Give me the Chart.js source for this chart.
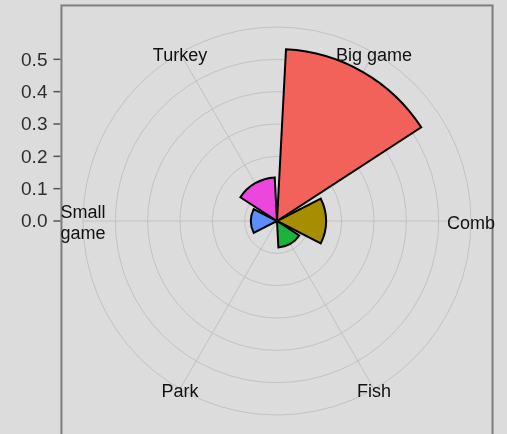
<!DOCTYPE html>
<html>
<head>
<meta charset="utf-8">
<script src="https://cdn.jsdelivr.net/npm/chart.js@4.4.1/dist/chart.umd.min.js"></script>
<style>
  html, body { margin: 0; padding: 0; background: #dcdcdc; }
  canvas { display: block; }
</style>
</head>
<body>
<canvas id="chart" width="507" height="434"></canvas>
<script>
// data
const categories = ['Big game', 'Comb', 'Fish', 'Park', ['Small', 'game'], 'Turkey'];
const shares = [0.532, 0.152, 0.082, 0.005, 0.081, 0.135];
const sliceColors = ['#f3625a', '#a78e00', '#1bb33a', '#00bfc4', '#5c8dfb', '#eb46de'];
const yTickLabels = [0, 0.1, 0.2, 0.3, 0.4, 0.5];
const barWidth = 0.9; // each wedge fills 90% of its sector

const FONT = '"Liberation Sans", Arial, sans-serif';

// centre each wedge on its category angle and leave a gap between sectors
const wedgePlugin = {
    id: 'wedges',
    afterDatasetsUpdate(chart) {
        chart.getDatasetMeta(0).data.forEach(arc => {
            const centre = arc.startAngle;
            const half = (arc.endAngle - arc.startAngle) / 2 * barWidth;
            arc.startAngle = centre - half;
            arc.endAngle = centre + half;
        });
    }
};

// panel frame, left axis ticks and category labels
const framePlugin = {
    id: 'frame',
    beforeDraw(chart) {
        const ctx = chart.ctx;
        ctx.save();
        ctx.fillStyle = '#dcdcdc';
        ctx.fillRect(0, 0, chart.width, chart.height);
        ctx.restore();
    },
    afterDraw(chart) {
        const ctx = chart.ctx;
        const r = chart.scales.r;
        const half = r.drawingArea / 0.9;
        const left = r.xCenter - half;
        const right = r.xCenter + half;
        const top = r.yCenter - half;

        ctx.save();
        ctx.strokeStyle = '#7d7d7d';
        ctx.lineWidth = 2;
        ctx.strokeRect(left, top, right - left, chart.height + 10);

        // y axis on the left
        ctx.font = '19px ' + FONT;
        ctx.fillStyle = '#2e2e2e';
        ctx.textAlign = 'right';
        ctx.textBaseline = 'middle';
        ctx.strokeStyle = '#555555';
        ctx.lineWidth = 1.5;
        yTickLabels.forEach(v => {
            const y = r.yCenter - r.getDistanceFromCenterForValue(v);
            ctx.beginPath();
            ctx.moveTo(left - 8, y);
            ctx.lineTo(left - 1, y);
            ctx.stroke();
            ctx.fillText(v.toFixed(1), left - 14, y + 1);
        });

        // category labels sit on the outer ring
        ctx.font = '18px ' + FONT;
        ctx.fillStyle = '#111111';
        ctx.textAlign = 'center';
        categories.forEach((label, i) => {
            const p = r.getPointPosition(i, r.drawingArea);
            const lines = Array.isArray(label) ? label : [label];
            const lh = 21;
            lines.forEach((t, j) => {
                ctx.fillText(t, p.x, p.y + 3 + (j - (lines.length - 1) / 2) * lh);
            });
        });
        ctx.restore();
    }
};

new Chart(document.getElementById('chart'), {
    type: 'polarArea',
    data: {
        labels: categories,
        datasets: [{
            data: shares,
            backgroundColor: sliceColors,
            borderColor: '#000000',
            borderWidth: 2,
            borderJoinStyle: 'miter'
        }]
    },
    options: {
        responsive: false,
        animation: false,
        layout: { padding: { left: 83, right: 36, top: 27, bottom: 19 } },
        plugins: {
            legend: { display: false },
            tooltip: { enabled: false }
        },
        scales: {
            r: {
                min: 0,
                max: 0.6,
                startAngle: 30,
                ticks: { display: false, stepSize: 0.1 },
                grid: { circular: true, color: '#c2c2c2', lineWidth: 1 },
                angleLines: { display: true, color: '#c2c2c2', lineWidth: 1 },
                pointLabels: { display: false }
            }
        }
    },
    plugins: [wedgePlugin, framePlugin]
});
</script>
</body>
</html>
